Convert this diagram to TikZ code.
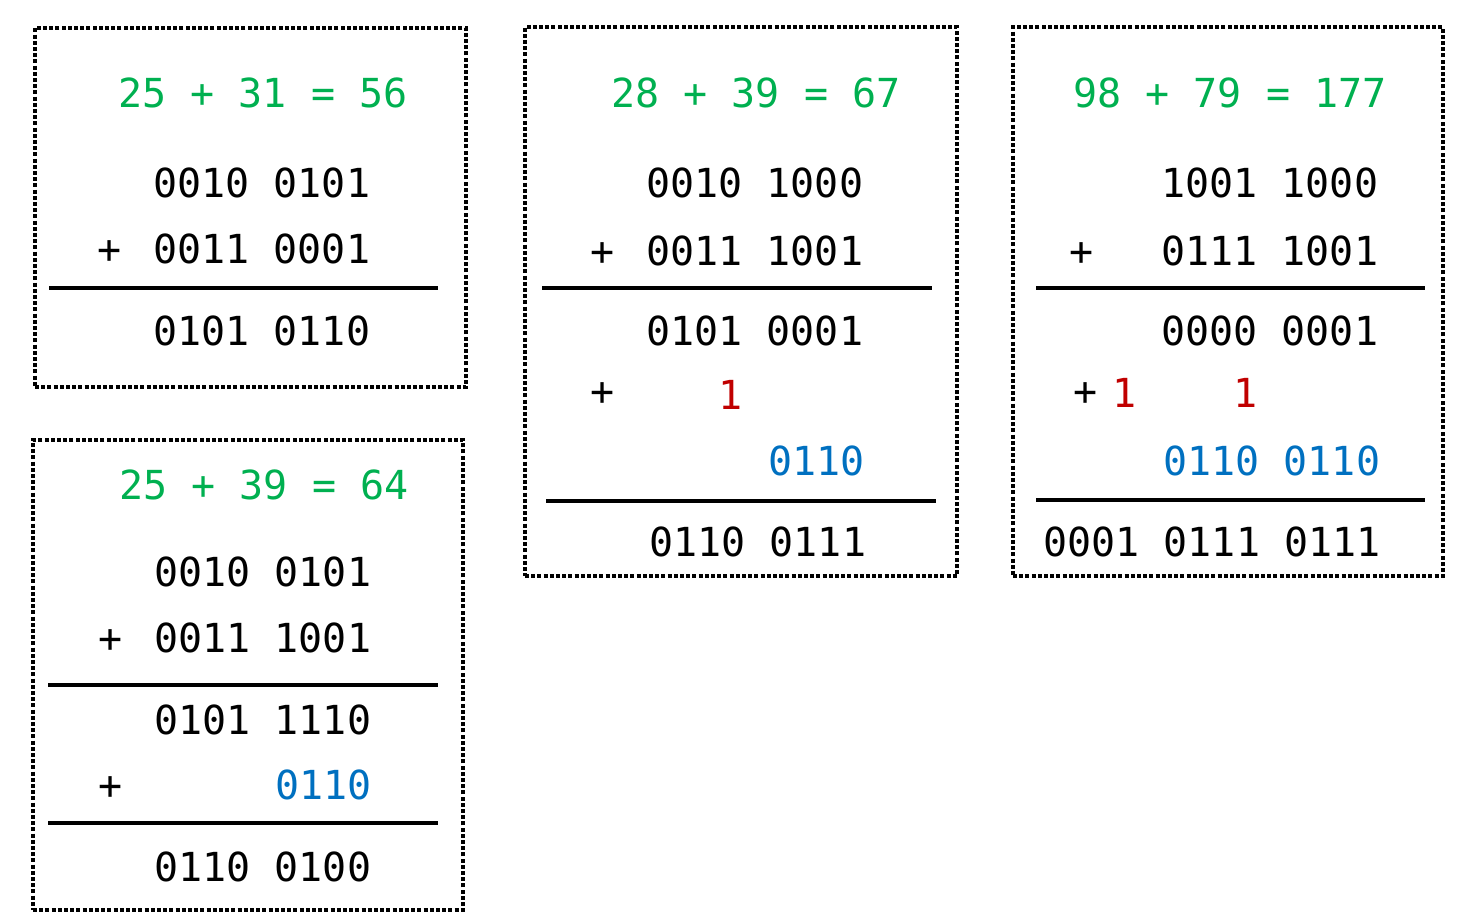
\documentclass[tikz,border=0pt]{standalone}
\usepackage{fontspec}
\usetikzlibrary{positioning,calc}
\newfontfamily\bcdfont{DejaVu Sans Mono}
\definecolor{sumGreen}{HTML}{00B050}
\definecolor{carryRed}{HTML}{C00000}
\definecolor{fixBlue}{HTML}{0070C0}
\tikzset{
  frameBox/.style={draw,line width=1.9pt,dash pattern=on 2pt off 1.1pt,inner sep=0pt},
  sumRule/.style={line width=1.6pt},
  numText/.style={font=\bcdfont\fontsize{20pt}{24pt}\selectfont,anchor=base west,inner sep=0pt},
  titleText/.style={numText,text=sumGreen},
  fixText/.style={numText,text=fixBlue},
  plusSign/.style={font=\bcdfont\fontsize{20pt}{24pt}\selectfont,anchor=base,inner sep=0pt},
  carryText/.style={plusSign,text=carryRed},
}
\begin{document}
\begin{tikzpicture}[x=0.5pt,y=-0.5pt]
\useasboundingbox (0,0) rectangle (1480,913);

% ===== Frames =====
\node[frameBox,minimum width=215.5pt,minimum height=179.5pt] (boxA) at (250.5,207.5) {};
\node[frameBox,minimum width=215pt,minimum height=235pt] (boxB) at (248,675) {};
\node[frameBox,minimum width=216pt,minimum height=274.5pt] (boxC) at (741,301.5) {};
\node[frameBox,minimum width=215pt,minimum height=274.5pt] (boxD) at (1228,301.5) {};

% ===== 25 + 31 = 56 =====
\node[titleText] (aTitle) at (118,108) {25 + 31 = 56};
\node[numText] (aRow1) at (153,198) {0010 0101};
\node[plusSign] (aPlus1) at (110,264) {+};
\node[numText] (aRow2) at (153,264) {0011 0001};
\coordinate (aRuleL) at (49,288);
\coordinate (aRuleR) at (438,288);
\draw[sumRule] (aRuleL) -- (aRuleR);
\node[numText] (aSum) at (153,346) {0101 0110};

% ===== 25 + 39 = 64 =====
\node[titleText] (bTitle) at (119,500) {25 + 39 = 64};
\node[numText] (bRow1) at (154,587) {0010 0101};
\node[plusSign] (bPlus1) at (111,653) {+};
\node[numText] (bRow2) at (154,653) {0011 1001};
\coordinate (bRuleL) at (48,685);
\coordinate (bRuleR) at (438,685);
\draw[sumRule] (bRuleL) -- (bRuleR);
\node[numText] (bRow3) at (154,735) {0101 1110};
\node[plusSign] (bPlus2) at (111,800) {+};
\node[fixText] (bFix) at (275,800) {0110};
\coordinate (bRule2L) at (48,823);
\coordinate (bRule2R) at (438,823);
\draw[sumRule] (bRule2L) -- (bRule2R);
\node[numText] (bSum) at (154,882) {0110 0100};

% ===== 28 + 39 = 67 =====
\node[titleText] (cTitle) at (611,108) {28 + 39 = 67};
\node[numText] (cRow1) at (646,198) {0010 1000};
\node[plusSign] (cPlus1) at (603,266) {+};
\node[numText] (cRow2) at (646,266) {0011 1001};
\coordinate (cRuleL) at (542,288);
\coordinate (cRuleR) at (932,288);
\draw[sumRule] (cRuleL) -- (cRuleR);
\node[numText] (cRow3) at (646,346) {0101 0001};
\node[plusSign] (cPlus2) at (603,406) {+};
\node[carryText] (cCarry) at (731,410) {1};
\node[fixText] (cFix) at (768,476) {0110};
\coordinate (cRule2L) at (546,501);
\coordinate (cRule2R) at (936,501);
\draw[sumRule] (cRule2L) -- (cRule2R);
\node[numText] (cSum) at (649,557) {0110 0111};

% ===== 98 + 79 = 177 =====
\node[titleText] (dTitle) at (1073,108) {98 + 79 = 177};
\node[numText] (dRow1) at (1161,198) {1001 1000};
\node[plusSign] (dPlus1) at (1082,266) {+};
\node[numText] (dRow2) at (1161,266) {0111 1001};
\coordinate (dRuleL) at (1036,288);
\coordinate (dRuleR) at (1425,288);
\draw[sumRule] (dRuleL) -- (dRuleR);
\node[numText] (dRow3) at (1161,346) {0000 0001};
\node[plusSign] (dPlus2) at (1086,406) {+};
\node[carryText] (dCarryHi) at (1125,408) {1};
\node[carryText] (dCarryLo) at (1246,408) {1};
\node[fixText] (dFix) at (1163,476) {0110 0110};
\coordinate (dRule2L) at (1036,500);
\coordinate (dRule2R) at (1425,500);
\draw[sumRule] (dRule2L) -- (dRule2R);
\node[numText] (dSum) at (1043,557) {0001 0111 0111};

\end{tikzpicture}
\end{document}
